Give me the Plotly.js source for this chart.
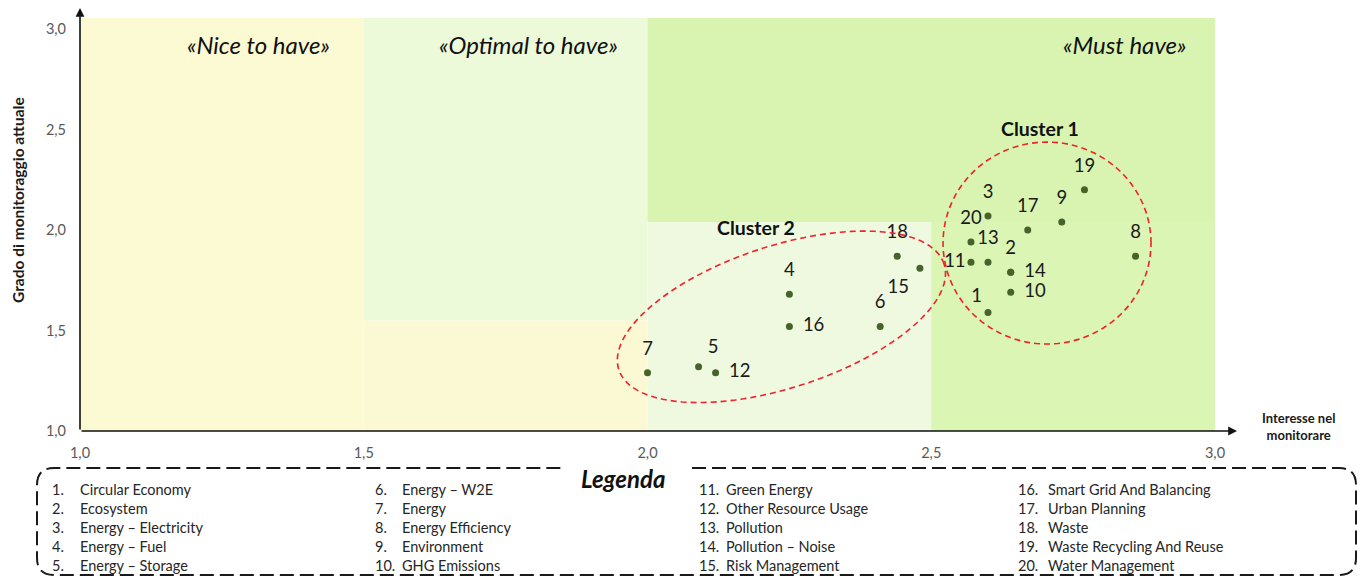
<!DOCTYPE html>
<html>
<head>
<meta charset="utf-8">
<script src="https://cdn.plot.ly/plotly-3.0.1.min.js"></script>
<style>
html,body{margin:0;padding:0;background:#fff;}
#chart{width:1363px;height:578px;}
</style>
</head>
<body>
<div id="chart"></div>
<script>
// ---------------- DATA ----------------
const pointIds = ["1","2","3","4","5","6","7","8","9","10","11","12","13","14","15","16","17","18","19","20"];
const categories = [
  "Circular Economy","Ecosystem","Energy \u2013 Electricity","Energy \u2013 Fuel","Energy \u2013 Storage",
  "Energy \u2013 W2E","Energy","Energy Efficiency","Environment","GHG Emissions",
  "Green Energy","Other Resource Usage","Pollution","Pollution \u2013 Noise","Risk Management",
  "Smart Grid And Balancing","Urban Planning","Waste","Waste Recycling And Reuse","Water Management"
];
// Interesse nel monitorare (x)
const interesse = [2.60, 2.64, 2.60, 2.25, 2.09, 2.41, 2.00, 2.86, 2.73, 2.64, 2.57, 2.12, 2.60, 2.64, 2.48, 2.25, 2.67, 2.44, 2.77, 2.57];
// Grado di monitoraggio attuale (y)
const grado     = [1.59, 1.79, 2.07, 1.68, 1.32, 1.52, 1.29, 1.87, 2.04, 1.69, 1.84, 1.29, 1.84, 1.79, 1.81, 1.52, 2.00, 1.87, 2.20, 1.94];
const tickVals = [1.0, 1.5, 2.0, 2.5, 3.0];
const tickText = ["1,0", "1,5", "2,0", "2,5", "3,0"];
const quadrantLabels = ["\u00abNice to have\u00bb", "\u00abOptimal to have\u00bb", "\u00abMust have\u00bb"];
const clusterNames = ["Cluster 1", "Cluster 2"];
const xAxisTitle = "Interesse nel<br>monitorare";
const yAxisTitle = "Grado di monitoraggio attuale";
const legendTitle = "Legenda";

// ---------------- STYLE / GEOMETRY ----------------
const labelPositions = ["top left","top center","top center","top center","top right",
  "top center","top center","top center","top center","middle right",
  "middle left","middle right","top center","middle right","bottom left",
  "middle right","top center","top center","top center","top center"];
// size of the invisible marker used to pad each data label away from its point
const labelPad = [8, 20, 20, 20, 13, 20, 20, 20, 20, 20, 7, 20, 20, 20, 16, 20, 20, 20, 20, 20];

const W = 1363, H = 578;
const M = {l: 80, r: 125, t: 7, b: 147};
const plotW = W - M.l - M.r, plotH = H - M.t - M.b;
const PXX = 567.5, PXY = 201;               // pixels per data unit
const xRange = [1, 1 + plotW / PXX];
const yRange = [1, 1 + plotH / PXY];
const FONT = "Lato, 'Open Sans', sans-serif";

const px2paperX = px => (px - M.l) / plotW;
const px2paperY = py => (H - M.b - py) / plotH;

function ellipsePath(cx, cy, aPx, bPx, angDeg) {
  const th = angDeg * Math.PI / 180;
  let d = "";
  const n = 120;
  for (let i = 0; i <= n; i++) {
    const t = 2 * Math.PI * i / n;
    const dx = aPx * Math.cos(t) * Math.cos(th) - bPx * Math.sin(t) * Math.sin(th);
    const dy = aPx * Math.cos(t) * Math.sin(th) + bPx * Math.sin(t) * Math.cos(th);
    const x = cx + dx / PXX, y = cy + dy / PXY;
    d += (i === 0 ? "M" : "L") + x.toFixed(5) + "," + y.toFixed(5);
  }
  return d + "Z";
}

const topY = 3.055;
const bgRects = [
  {x0: 1.0, x1: 1.5, y0: 1.0, y1: topY, c: "#fcfad2"},
  {x0: 1.5, x1: 2.0, y0: 1.55, y1: topY, c: "#ecfad9"},
  {x0: 1.5, x1: 2.0, y0: 1.0, y1: 1.55, c: "#fbf9d3"},
  {x0: 2.0, x1: 3.0, y0: 2.04, y1: topY, c: "#d9f4b1"},
  {x0: 2.0, x1: 2.5, y0: 1.0, y1: 2.04, c: "#eff9e0"},
  {x0: 2.5, x1: 3.0, y0: 1.0, y1: 2.04, c: "#daf5b4"}
];
const shapes = bgRects.map(r => ({
  type: "rect", xref: "x", yref: "y", x0: r.x0, x1: r.x1, y0: r.y0, y1: r.y1,
  fillcolor: r.c, line: {width: 0}, layer: "below"
}));

// cluster ellipses
shapes.push({type: "path", xref: "x", yref: "y", path: ellipsePath(2.704, 1.935, 104, 101, 0),
  line: {color: "#f0202e", width: 1.6, dash: "6px,4px"}, fillcolor: "rgba(0,0,0,0)"});
shapes.push({type: "path", xref: "x", yref: "y", path: ellipsePath(2.236, 1.568, 171, 71, 18),
  line: {color: "#f0202e", width: 1.6, dash: "6px,4px"}, fillcolor: "rgba(0,0,0,0)"});

// legend box (dashed, rounded, gap for title)
(function () {
  const L = 37, R = 1356, T = 468, B = 575, rr = 17, gL = 562, gR = 692;
  const P = (x, y) => px2paperX(x).toFixed(5) + "," + px2paperY(y).toFixed(5);
  const path = "M" + P(gR, T) + " L" + P(R - rr, T) + " Q" + P(R, T) + " " + P(R, T + rr) +
    " L" + P(R, B - rr) + " Q" + P(R, B) + " " + P(R - rr, B) +
    " L" + P(L + rr, B) + " Q" + P(L, B) + " " + P(L, B - rr) +
    " L" + P(L, T + rr) + " Q" + P(L, T) + " " + P(L + rr, T) + " L" + P(gL, T);
  shapes.push({type: "path", xref: "paper", yref: "paper", path: path,
    line: {color: "#1a1a1a", width: 2, dash: "14px,6px"}});
})();

const annotations = [];
// axis arrows
annotations.push({x: 1 + 1157 / PXX, y: 1, ax: 1, ay: 1, xref: "x", yref: "y", axref: "x", ayref: "y",
  text: "", showarrow: true, arrowhead: 2, arrowsize: 1.1, arrowwidth: 1.6, arrowcolor: "#111", standoff: 0});
annotations.push({x: 1, y: 1 + 423 / PXY, ax: 1, ay: 1, xref: "x", yref: "y", axref: "x", ayref: "y",
  text: "", showarrow: true, arrowhead: 2, arrowsize: 1.1, arrowwidth: 1.6, arrowcolor: "#111", standoff: 0});

// quadrant labels
const qPos = [[1.314, 2.925], [1.791, 2.925], [2.841, 2.925]];
quadrantLabels.forEach((t, i) => annotations.push({x: qPos[i][0], y: qPos[i][1], xref: "x", yref: "y",
  xanchor: "center", yanchor: "middle",
  text: "<i>" + t + "</i>", showarrow: false, font: {family: FONT, size: 24, color: "#111"}}));

// cluster names
const cPos = [[2.692, 2.507], [2.191, 2.010]];
clusterNames.forEach((t, i) => annotations.push({x: cPos[i][0], y: cPos[i][1], xref: "x", yref: "y",
  xanchor: "center", yanchor: "middle",
  text: "<b>" + t + "</b>", showarrow: false, font: {family: FONT, size: 19.5, color: "#111"}}));

// axis titles
annotations.push({x: px2paperX(1298), y: px2paperY(426), xref: "paper", yref: "paper", xanchor: "center", yanchor: "middle",
  text: "<b>" + xAxisTitle + "</b>", showarrow: false, align: "center", font: {family: FONT, size: 13, color: "#1a1a1a"}});
annotations.push({x: px2paperX(18), y: px2paperY(200), xref: "paper", yref: "paper", xanchor: "center", yanchor: "middle",
  text: "<b>" + yAxisTitle + "</b>", showarrow: false, textangle: -90, font: {family: FONT, size: 15.5, color: "#1a1a1a"}});

// legend title
annotations.push({x: px2paperX(623), y: px2paperY(478), xref: "paper", yref: "paper", xanchor: "center", yanchor: "middle",
  text: "<b><i>" + legendTitle + "</i></b>", showarrow: false, font: {family: FONT, size: 24, color: "#111"}});

// legend entries
const colNumX = [50, 373, 697, 1016], colNameX = [78, 400, 724, 1046];
categories.forEach((name, i) => {
  const col = Math.floor(i / 5), row = i % 5;
  const yy = px2paperY(489 + 19 * row);
  annotations.push({x: px2paperX(colNumX[col]), y: yy, xref: "paper", yref: "paper", xanchor: "left", yanchor: "middle",
    text: pointIds[i] + ".", showarrow: false, font: {family: FONT, size: 14.5, color: "#262626"}});
  annotations.push({x: px2paperX(colNameX[col]), y: yy, xref: "paper", yref: "paper", xanchor: "left", yanchor: "middle",
    text: name, showarrow: false, font: {family: FONT, size: 14.5, color: "#262626"}});
});

const labelTrace = {
  type: "scatter", mode: "markers+text",
  x: interesse, y: grado, text: pointIds, textposition: labelPositions,
  textfont: {family: FONT, size: 18.5, color: "#1a1a1a"},
  marker: {size: labelPad, color: "#46632a", opacity: 0, line: {width: 0}},
  hoverinfo: "skip", cliponaxis: false
};
const pointTrace = {
  type: "scatter", mode: "markers",
  x: interesse, y: grado,
  marker: {size: 7, color: "#46632a", line: {width: 0}},
  hovertext: categories, hoverinfo: "text+x+y", cliponaxis: false
};

const layout = {
  width: W, height: H, margin: M, showlegend: false,
  paper_bgcolor: "#ffffff", plot_bgcolor: "rgba(0,0,0,0)",
  font: {family: FONT},
  xaxis: {range: xRange, tickvals: tickVals, ticktext: tickText, showgrid: false, zeroline: false, showline: false,
    ticks: "", ticklabelstandoff: 11, tickfont: {family: FONT, size: 14.5, color: "#595959"}, fixedrange: true},
  yaxis: {range: yRange, tickvals: tickVals, ticktext: tickText, showgrid: false, zeroline: false, showline: false,
    ticks: "", ticklabelstandoff: 13, tickfont: {family: FONT, size: 14.5, color: "#595959"}, fixedrange: true},
  shapes: shapes, annotations: annotations
};

Plotly.newPlot("chart", [labelTrace, pointTrace], layout, {displayModeBar: false, staticPlot: true});
</script>
</body>
</html>
